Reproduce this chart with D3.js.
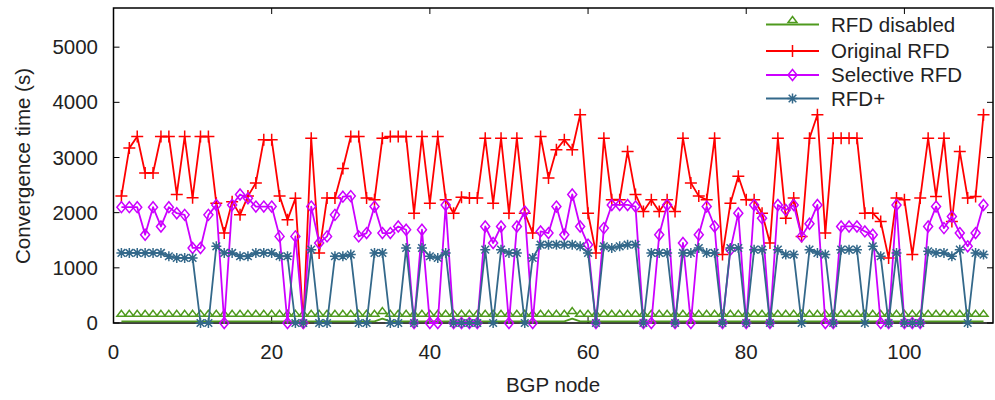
<!DOCTYPE html>
<html>
<head>
<meta charset="utf-8">
<script src="https://cdn.jsdelivr.net/npm/d3@7"></script>
<style>
  html, body { margin: 0; padding: 0; background: #fff; }
  svg { display: block; font-family: "Liberation Sans", Arial, sans-serif; }
</style>
</head>
<body>
<svg id="chart" width="995" height="400"></svg>
<script>
// BGP nodes 1..110
const nodes = d3.range(1, 111);

const rfdDisabled = [
  30,30,30,30,30,30,30,30,30,30, 30,30,30,30,30,30,30,30,30,30,
  30,30,30,30,30,30,30,30,30,30, 30,30,30,80,30,30,30,30,30,30,
  30,30,30,30,30,30,30,30,30,30, 30,30,30,30,30,30,30,80,30,30,
  30,30,30,30,30,30,30,30,30,30, 30,30,30,30,30,30,30,30,30,30,
  30,30,30,30,30,30,30,30,30,30, 30,30,30,30,30,30,30,30,30,30,
  30,30,30,30,30,30,30,30,30,30
];

const originalRFD = [
  2300,3170,3380,2720,2720,3380,3380,2330,3380,2270,
  3380,3380,2170,1630,2200,1960,2300,2540,3320,3320,
  2300,1870,2260,0,3350,1270,2265,2265,2800,3380,
  3380,2265,2235,3350,3380,3380,3380,1990,3380,2170,
  3380,2235,1990,2280,2265,2265,3350,2170,3350,1990,
  3350,1990,1630,3380,2630,3140,3320,3140,3775,1990,
  1270,3350,2235,2235,3110,2330,2020,2235,2020,2235,
  2020,3350,2540,2300,2235,3350,1240,2170,2660,2235,
  2235,1990,1450,3350,1900,2265,1570,3350,3775,1630,
  3350,3350,3350,3350,1990,1990,1840,1180,2265,2235,
  1240,2265,3350,2295,3350,1840,3110,2265,2295,3775
];

const selectiveRFD = [
  2100,2100,2100,1600,2100,1750,2100,1990,1960,1360,
  1360,1960,2140,0,2140,2330,2260,2110,2110,2110,
  1570,0,1570,0,2110,1450,1570,1960,2290,2300,
  1570,1630,2110,1630,1630,1750,1690,0,1690,0,
  0,2140,0,0,0,0,1750,1450,1750,0,
  1750,2020,0,1660,1630,2110,1600,2330,1750,1420,
  0,1720,2140,2140,2140,2110,0,0,1600,2140,
  0,1450,0,1600,2110,1750,0,1330,1990,0,
  2140,1900,0,2140,2050,2140,1570,1800,2140,0,
  0,1750,1750,1750,1660,1600,0,0,2140,0,
  0,0,1750,2110,1720,1930,1630,1390,1630,2140
];

const rfdPlus = [
  1270,1270,1270,1270,1270,1270,1210,1180,1180,1180,
  0,0,1390,1270,1270,1210,1210,1270,1270,1270,
  1210,1210,0,0,1330,0,0,1210,1210,1240,
  0,0,1270,1270,0,0,1360,0,1360,1210,
  1180,1270,0,0,0,0,1330,0,1330,1270,
  1270,0,1180,1420,1420,1420,1420,1420,1390,1270,
  0,1390,1360,1390,1420,1420,0,1270,1270,1270,
  0,1270,1270,1360,1270,1270,0,1360,1360,0,
  1330,1330,0,1330,1240,1240,0,1330,1270,1240,
  0,1330,1330,1330,0,1390,1210,0,1270,0,
  0,0,1300,1270,1270,1210,1330,0,1270,1240
];

const xTicks = [0, 20, 40, 60, 80, 100];
const yTicks = [0, 1000, 2000, 3000, 4000, 5000];

const seriesNames = ["RFD disabled", "Original RFD", "Selective RFD", "RFD+"];
const seriesColors = ["#4f9a1e", "#ff0000", "#cc00ff", "#33688a"];
const seriesShapes = ["triangle", "plus", "diamond", "star"];

const series = [rfdDisabled, originalRFD, selectiveRFD, rfdPlus].map((vals, k) => ({
  name: seriesNames[k],
  color: seriesColors[k],
  shape: seriesShapes[k],
  points: nodes.map((n, i) => ({ x: n, y: vals[i] }))
}));

const svg = d3.select("#chart");
const plot = { left: 113.5, right: 993, top: 8, bottom: 323 };

const x = d3.scaleLinear().domain([0, 111.2]).range([plot.left, plot.right]);
const y = d3.scaleLinear().domain([0, 5710]).range([plot.bottom, plot.top]);

// marker path generators, centred on (0,0)
function markerPath(shape) {
  switch (shape) {
    case "triangle": return "M0,-11 L4.5,-5 L-4.5,-5 Z";
    case "plus": return "M-6,0 H6 M0,-6 V6";
    case "diamond": return "M0,-5.5 L4.5,0 L0,5.5 L-4.5,0 Z";
    case "star": return "M-5,0 H5 M0,-5 V5 M-3.8,-3.8 L3.8,3.8 M-3.8,3.8 L3.8,-3.8";
  }
}

const textColor = "#222";
const fontSize = 20.5;

// axes: ticks point inward and are mirrored on the opposite side
const tickLen = 6;
const axes = svg.append("g");
xTicks.forEach(t => {
  axes.append("line").attr("x1", x(t)).attr("x2", x(t))
    .attr("y1", plot.bottom).attr("y2", plot.bottom - tickLen)
    .attr("stroke", "#000").attr("stroke-width", 1);
  axes.append("line").attr("x1", x(t)).attr("x2", x(t))
    .attr("y1", plot.top).attr("y2", plot.top + tickLen)
    .attr("stroke", "#000").attr("stroke-width", 1);
  axes.append("text").attr("x", x(t)).attr("y", 359)
    .attr("text-anchor", "middle").attr("font-size", fontSize).attr("fill", textColor)
    .text(t);
});
yTicks.forEach(t => {
  axes.append("line").attr("x1", plot.left).attr("x2", plot.left + tickLen)
    .attr("y1", y(t)).attr("y2", y(t))
    .attr("stroke", "#000").attr("stroke-width", 1);
  axes.append("line").attr("x1", plot.right).attr("x2", plot.right - tickLen)
    .attr("y1", y(t)).attr("y2", y(t))
    .attr("stroke", "#000").attr("stroke-width", 1);
  axes.append("text").attr("x", 98).attr("y", y(t) + 7)
    .attr("text-anchor", "end").attr("font-size", fontSize).attr("fill", textColor)
    .text(t);
});

// plot frame
svg.append("rect")
  .attr("x", plot.left).attr("y", plot.top)
  .attr("width", plot.right - plot.left).attr("height", plot.bottom - plot.top)
  .attr("fill", "none").attr("stroke", "#000").attr("stroke-width", 1.5);

// axis titles
svg.append("text").attr("x", 553).attr("y", 392)
  .attr("text-anchor", "middle").attr("font-size", fontSize).attr("fill", textColor)
  .text("BGP node");
svg.append("text")
  .attr("transform", "translate(30,166) rotate(-90)")
  .attr("text-anchor", "middle").attr("font-size", fontSize).attr("fill", textColor)
  .text("Convergence time (s)");

// data series
const line = d3.line().x(d => x(d.x)).y(d => y(d.y));
series.forEach(s => {
  const g = svg.append("g");
  g.append("path").datum(s.points)
    .attr("d", line)
    .attr("fill", "none").attr("stroke", s.color).attr("stroke-width", 1.8)
    .attr("stroke-linejoin", "round");
  g.selectAll("path.m").data(s.points).join("path")
    .attr("class", "m")
    .attr("transform", d => `translate(${x(d.x)},${y(d.y)})`)
    .attr("d", markerPath(s.shape))
    .attr("fill", "none")
    .attr("stroke", s.color).attr("stroke-width", 1.5);
});

// legend
const legend = svg.append("g");
const legendRows = [24.5, 51, 75, 98.5];
series.forEach((s, k) => {
  const ly = legendRows[k];
  legend.append("line").attr("x1", 766).attr("x2", 819)
    .attr("y1", ly).attr("y2", ly)
    .attr("stroke", s.color).attr("stroke-width", 1.8);
  legend.append("path")
    .attr("transform", `translate(792.5,${s.shape === "triangle" ? ly + 3 : ly})`)
    .attr("d", markerPath(s.shape))
    .attr("fill", "none").attr("stroke", s.color).attr("stroke-width", 1.5);
  legend.append("text").attr("x", 831).attr("y", ly + 7)
    .attr("font-size", fontSize).attr("fill", textColor)
    .text(s.name);
});
</script>
</body>
</html>
